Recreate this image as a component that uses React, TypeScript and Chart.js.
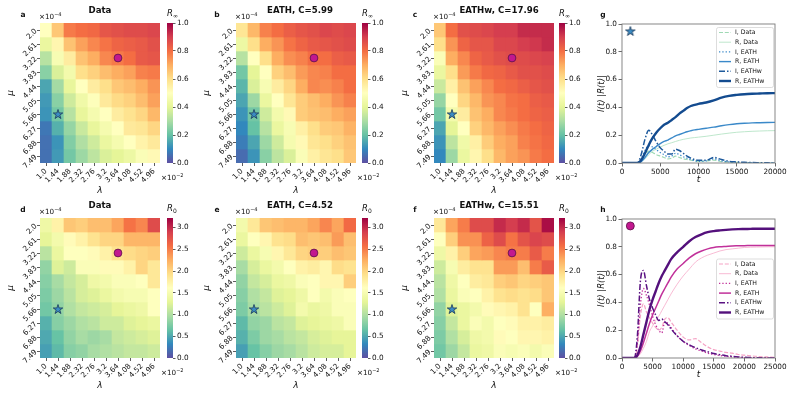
import React, { useEffect, useRef } from 'react';
import { Chart, registerables } from 'chart.js';
Chart.register(...registerables);

const FONT = "'DejaVu Sans', sans-serif";
Chart.defaults.font.family = FONT;

// ---------------- data ----------------
const lambdaLabels = ['1.0', '1.44', '1.88', '2.32', '2.76', '3.2', '3.64', '4.08', '4.52', '4.96'];
const muLabels = ['2.0', '2.61', '3.22', '3.83', '4.44', '5.05', '5.66', '6.27', '6.88', '7.49'];

const rInfData = [
  [0.50, 0.65, 0.78, 0.80, 0.81, 0.85, 0.86, 0.87, 0.87, 0.88],
  [0.42, 0.53, 0.66, 0.72, 0.76, 0.79, 0.82, 0.83, 0.84, 0.86],
  [0.32, 0.47, 0.56, 0.66, 0.70, 0.76, 0.78, 0.80, 0.84, 0.85],
  [0.25, 0.38, 0.45, 0.60, 0.63, 0.67, 0.70, 0.72, 0.77, 0.78],
  [0.15, 0.29, 0.41, 0.50, 0.56, 0.60, 0.65, 0.67, 0.70, 0.74],
  [0.13, 0.25, 0.36, 0.44, 0.49, 0.57, 0.61, 0.63, 0.67, 0.72],
  [0.12, 0.22, 0.32, 0.41, 0.46, 0.50, 0.56, 0.59, 0.62, 0.68],
  [0.07, 0.17, 0.27, 0.35, 0.41, 0.46, 0.50, 0.57, 0.58, 0.62],
  [0.06, 0.12, 0.24, 0.31, 0.36, 0.42, 0.46, 0.50, 0.54, 0.57],
  [0.06, 0.13, 0.22, 0.28, 0.33, 0.38, 0.40, 0.43, 0.48, 0.52],
];
const rInfEath = [
  [0.58, 0.68, 0.77, 0.80, 0.83, 0.85, 0.86, 0.88, 0.87, 0.88],
  [0.43, 0.60, 0.70, 0.74, 0.79, 0.82, 0.84, 0.85, 0.86, 0.87],
  [0.32, 0.50, 0.60, 0.70, 0.75, 0.77, 0.80, 0.80, 0.83, 0.84],
  [0.22, 0.40, 0.50, 0.63, 0.67, 0.73, 0.76, 0.77, 0.80, 0.80],
  [0.18, 0.38, 0.47, 0.56, 0.62, 0.70, 0.76, 0.75, 0.77, 0.80],
  [0.15, 0.28, 0.42, 0.50, 0.58, 0.64, 0.67, 0.70, 0.74, 0.77],
  [0.12, 0.22, 0.36, 0.45, 0.52, 0.64, 0.66, 0.67, 0.70, 0.72],
  [0.10, 0.20, 0.32, 0.42, 0.47, 0.55, 0.60, 0.64, 0.65, 0.69],
  [0.08, 0.15, 0.28, 0.36, 0.46, 0.52, 0.58, 0.60, 0.63, 0.66],
  [0.05, 0.12, 0.25, 0.33, 0.38, 0.48, 0.55, 0.58, 0.60, 0.65],
];
const rInfEathw = [
  [0.65, 0.80, 0.86, 0.87, 0.88, 0.90, 0.90, 0.93, 0.93, 0.93],
  [0.60, 0.74, 0.82, 0.85, 0.85, 0.88, 0.88, 0.90, 0.91, 0.93],
  [0.48, 0.70, 0.76, 0.82, 0.84, 0.86, 0.87, 0.87, 0.88, 0.89],
  [0.42, 0.60, 0.73, 0.78, 0.81, 0.82, 0.84, 0.86, 0.86, 0.87],
  [0.35, 0.55, 0.66, 0.72, 0.76, 0.80, 0.81, 0.83, 0.85, 0.86],
  [0.27, 0.50, 0.62, 0.68, 0.74, 0.76, 0.79, 0.80, 0.83, 0.84],
  [0.22, 0.45, 0.56, 0.66, 0.70, 0.76, 0.78, 0.80, 0.82, 0.83],
  [0.15, 0.40, 0.50, 0.63, 0.68, 0.72, 0.75, 0.78, 0.80, 0.82],
  [0.12, 0.33, 0.44, 0.55, 0.64, 0.70, 0.72, 0.77, 0.79, 0.81],
  [0.10, 0.28, 0.42, 0.53, 0.60, 0.68, 0.72, 0.74, 0.78, 0.80],
];
const r0Data = [
  [1.40, 1.75, 2.10, 2.05, 2.15, 2.15, 2.30, 2.55, 2.45, 2.80],
  [1.30, 1.45, 1.65, 1.75, 1.90, 2.00, 2.00, 2.20, 2.20, 2.20],
  [1.05, 1.35, 1.60, 1.60, 1.65, 1.75, 1.90, 1.95, 2.00, 2.05],
  [0.85, 1.25, 1.15, 1.55, 1.55, 1.65, 1.65, 1.75, 2.00, 1.85],
  [0.80, 0.95, 1.10, 1.20, 1.40, 1.45, 1.55, 1.55, 1.60, 1.85],
  [0.75, 0.90, 1.05, 1.20, 1.25, 1.35, 1.45, 1.50, 1.50, 1.60],
  [0.70, 0.85, 1.00, 1.10, 1.15, 1.20, 1.30, 1.35, 1.40, 1.60],
  [0.55, 0.80, 0.90, 1.00, 1.05, 1.15, 1.15, 1.25, 1.30, 1.35],
  [0.50, 0.65, 0.85, 0.95, 0.90, 0.95, 1.10, 1.15, 1.20, 1.25],
  [0.45, 0.60, 0.80, 0.85, 0.95, 1.00, 1.05, 1.10, 1.10, 1.15],
];
const r0Eath = [
  [1.45, 1.85, 2.10, 2.15, 2.20, 2.20, 2.30, 2.45, 2.30, 2.60],
  [1.35, 1.60, 1.70, 1.90, 1.95, 2.15, 2.10, 2.15, 2.35, 2.15],
  [1.15, 1.35, 1.50, 1.70, 1.85, 2.00, 2.05, 2.05, 2.15, 2.10],
  [0.95, 1.20, 1.35, 1.45, 1.60, 1.75, 1.80, 1.70, 1.95, 1.90],
  [0.85, 1.10, 1.20, 1.35, 1.40, 1.55, 1.60, 1.70, 1.70, 2.05],
  [0.80, 1.00, 1.10, 1.25, 1.30, 1.40, 1.60, 1.45, 1.55, 1.60],
  [0.75, 0.95, 1.05, 1.15, 1.25, 1.45, 1.35, 1.40, 1.55, 1.55],
  [0.60, 0.85, 0.90, 1.05, 1.10, 1.25, 1.30, 1.35, 1.40, 1.55],
  [0.55, 0.75, 0.90, 0.95, 1.05, 1.10, 1.20, 1.25, 1.30, 1.30],
  [0.45, 0.65, 0.80, 0.90, 0.95, 1.05, 1.15, 1.20, 1.20, 1.30],
];
const r0Eathw = [
  [1.85, 2.30, 2.50, 2.80, 2.80, 3.00, 2.90, 3.00, 2.75, 3.15],
  [1.60, 2.05, 2.40, 2.40, 2.65, 2.80, 2.55, 2.75, 2.85, 2.80],
  [1.40, 1.75, 2.05, 2.30, 2.35, 2.45, 2.50, 2.50, 2.70, 2.50],
  [1.15, 1.50, 1.80, 1.90, 1.90, 2.35, 2.35, 2.15, 2.50, 2.70],
  [1.05, 1.40, 1.60, 1.80, 1.85, 2.05, 2.10, 2.00, 2.05, 2.10],
  [1.00, 1.35, 1.55, 1.60, 1.75, 1.90, 1.95, 1.90, 1.95, 2.10],
  [0.85, 1.25, 1.35, 1.45, 1.65, 1.70, 1.75, 1.90, 1.60, 2.25],
  [0.80, 1.10, 1.35, 1.55, 1.45, 1.60, 1.65, 1.75, 1.75, 1.80],
  [0.75, 1.00, 1.20, 1.40, 1.45, 1.65, 1.60, 1.70, 1.70, 1.75],
  [0.70, 0.90, 1.10, 1.35, 1.40, 1.55, 1.50, 1.55, 1.45, 1.55],
];

const circleMarker = { lambda: '3.64', mu: '3.22' };
const starMarker = { lambda: '1.44', mu: '5.66' };

const gT = [0, 1000, 2000, 2500, 3000, 3500, 4000, 4500, 5000, 5500, 6000, 6500, 7000, 7500, 8000, 8500, 9000, 9500, 10000, 11000, 12000, 13000, 14000, 15000, 16000, 17000, 18000, 19000, 20000];
const gIData = [0, 0, 0, 0.02, 0.06, 0.085, 0.075, 0.06, 0.05, 0.04, 0.03, 0.035, 0.05, 0.04, 0.03, 0.025, 0.02, 0.015, 0.012, 0.015, 0.02, 0.01, 0.006, 0.004, 0.003, 0.002, 0.001, 0, 0];
const gRData = [0, 0, 0, 0.01, 0.03, 0.06, 0.085, 0.1, 0.115, 0.127, 0.138, 0.146, 0.155, 0.163, 0.17, 0.175, 0.18, 0.183, 0.186, 0.192, 0.2, 0.208, 0.215, 0.221, 0.225, 0.228, 0.23, 0.232, 0.233];
const gIEath = [0, 0, 0, 0.03, 0.09, 0.125, 0.115, 0.095, 0.075, 0.06, 0.045, 0.05, 0.07, 0.06, 0.045, 0.035, 0.025, 0.018, 0.012, 0.015, 0.03, 0.015, 0.008, 0.005, 0.003, 0.002, 0.001, 0, 0];
const gREath = [0, 0, 0, 0.01, 0.04, 0.075, 0.1, 0.12, 0.14, 0.155, 0.165, 0.18, 0.195, 0.205, 0.215, 0.225, 0.232, 0.238, 0.242, 0.25, 0.258, 0.268, 0.276, 0.282, 0.286, 0.289, 0.29, 0.291, 0.292];
const gIEathw = [0, 0, 0, 0.06, 0.17, 0.235, 0.2, 0.15, 0.11, 0.085, 0.065, 0.065, 0.1, 0.09, 0.07, 0.05, 0.035, 0.025, 0.02, 0.02, 0.04, 0.025, 0.012, 0.008, 0.005, 0.003, 0.002, 0.001, 0];
const gREathw = [0, 0, 0, 0.02, 0.07, 0.13, 0.18, 0.22, 0.25, 0.275, 0.29, 0.31, 0.33, 0.355, 0.375, 0.395, 0.41, 0.418, 0.425, 0.435, 0.45, 0.47, 0.483, 0.49, 0.495, 0.498, 0.5, 0.502, 0.503];

const hT = [0, 1000, 2000, 2500, 3000, 3500, 4000, 4500, 5000, 5500, 6000, 6500, 7000, 7500, 8000, 9000, 10000, 11000, 12000, 13000, 14000, 15000, 16000, 17000, 18000, 19000, 20000, 21000, 22000, 23000, 24000, 25000];
const hIData = [0, 0, 0, 0.08, 0.3, 0.39, 0.33, 0.29, 0.25, 0.22, 0.2, 0.22, 0.28, 0.29, 0.26, 0.2, 0.15, 0.13, 0.14, 0.11, 0.08, 0.06, 0.05, 0.04, 0.035, 0.025, 0.02, 0.016, 0.012, 0.009, 0.007, 0.005];
const hRData = [0, 0, 0, 0.01, 0.03, 0.07, 0.12, 0.19, 0.23, 0.27, 0.3, 0.34, 0.38, 0.42, 0.46, 0.53, 0.59, 0.64, 0.69, 0.72, 0.74, 0.755, 0.77, 0.78, 0.785, 0.79, 0.795, 0.797, 0.798, 0.799, 0.8, 0.8];
const hIEath = [0, 0, 0, 0.1, 0.38, 0.5, 0.45, 0.38, 0.3, 0.24, 0.2, 0.18, 0.26, 0.25, 0.22, 0.16, 0.12, 0.09, 0.065, 0.05, 0.035, 0.025, 0.018, 0.012, 0.008, 0.005, 0.003, 0.002, 0.001, 0, 0, 0];
const hREath = [0, 0, 0, 0.01, 0.05, 0.11, 0.18, 0.25, 0.31, 0.36, 0.41, 0.46, 0.5, 0.54, 0.58, 0.64, 0.68, 0.72, 0.75, 0.77, 0.785, 0.795, 0.8, 0.803, 0.806, 0.807, 0.808, 0.809, 0.81, 0.81, 0.81, 0.81];
const hIEathw = [0, 0, 0, 0.15, 0.55, 0.63, 0.52, 0.42, 0.36, 0.31, 0.27, 0.28, 0.26, 0.24, 0.21, 0.16, 0.12, 0.095, 0.075, 0.058, 0.045, 0.032, 0.024, 0.017, 0.012, 0.008, 0.005, 0.003, 0.002, 0.001, 0, 0];
const hREathw = [0, 0, 0, 0.02, 0.08, 0.17, 0.26, 0.35, 0.42, 0.48, 0.54, 0.59, 0.63, 0.67, 0.71, 0.76, 0.8, 0.84, 0.87, 0.89, 0.905, 0.913, 0.918, 0.922, 0.925, 0.927, 0.928, 0.929, 0.93, 0.93, 0.93, 0.93];

const gMarker = { x: 1090, y: 0.95 };
const hMarker = { x: 1360, y: 0.95 };

// ---------------- colormap ----------------
const SPECTRAL = ['#9e0142', '#d53e4f', '#f46d43', '#fdae61', '#fee08b', '#ffffbf', '#e6f598', '#abdda4', '#66c2a5', '#3288bd', '#5e4fa2'];
const hex = (h: string) => [1, 3, 5].map((i) => parseInt(h.slice(i, i + 2), 16));
function spectralR(t: number) {
  t = Math.max(0, Math.min(1, t));
  const s = (1 - t) * 10;
  const i = Math.min(9, Math.floor(s));
  const f = s - i;
  const a = hex(SPECTRAL[i]);
  const b = hex(SPECTRAL[i + 1]);
  const c = a.map((v, k) => Math.round(v + (b[k] - v) * f));
  return `rgb(${c[0]},${c[1]},${c[2]})`;
}

function makeStar(size: number, fill: string, stroke: string) {
  const c = document.createElement('canvas');
  c.width = size; c.height = size;
  const ctx = c.getContext('2d')!;
  const cx = size / 2, cy = size / 2 + 0.5, R = size / 2 - 1, r = R * 0.382;
  ctx.beginPath();
  for (let k = 0; k < 10; k++) {
    const a = -Math.PI / 2 + (k * Math.PI) / 5;
    const rad = k % 2 === 0 ? R : r;
    ctx.lineTo(cx + rad * Math.cos(a), cy + rad * Math.sin(a));
  }
  ctx.closePath();
  ctx.fillStyle = fill; ctx.fill();
  ctx.lineWidth = 0.8; ctx.strokeStyle = stroke; ctx.stroke();
  return c;
}

const CIRCLE_FILL = '#c2188f';
const CIRCLE_EDGE = '#5a1048';
const STAR_FILL = '#3b8bc2';
const STAR_EDGE = '#1b3a5c';
const TICK_FONT = { family: FONT, size: 7.3 };
const TXT = '#111';

// ---------------- layout ----------------
const HM_H = 140;
const Y_AXIS_W = 40, X_AXIS_H = 35, PAD_T = 10, PAD_R = 12, PAD_B = 2;

type Panel = { letter: string; title: string; values: number[][]; vmax: number; step: number; sub: string; hmL: number; hmR: number; top: number; cbL: number; titleX: number; letterX: number };

const panels: Panel[] = [
  { letter: 'a', title: 'Data', values: rInfData, vmax: 1, step: 0.2, sub: '∞', hmL: 40, hmR: 160, top: 23, cbL: 167, titleX: 100, letterX: 23 },
  { letter: 'b', title: 'EATH, C=5.99', values: rInfEath, vmax: 1, step: 0.2, sub: '∞', hmL: 236, hmR: 356, top: 23, cbL: 362, titleX: 300, letterX: 217 },
  { letter: 'c', title: 'EATHw, C=17.96', values: rInfEathw, vmax: 1, step: 0.2, sub: '∞', hmL: 434, hmR: 554, top: 23, cbL: 559, titleX: 499, letterX: 415 },
  { letter: 'd', title: 'Data', values: r0Data, vmax: 3.22, step: 0.5, sub: '0', hmL: 40, hmR: 160, top: 218, cbL: 167, titleX: 100, letterX: 23 },
  { letter: 'e', title: 'EATH, C=4.52', values: r0Eath, vmax: 3.22, step: 0.5, sub: '0', hmL: 236, hmR: 356, top: 218, cbL: 362, titleX: 300, letterX: 217 },
  { letter: 'f', title: 'EATHw, C=15.51', values: r0Eathw, vmax: 3.22, step: 0.5, sub: '0', hmL: 434, hmR: 554, top: 218, cbL: 559, titleX: 499, letterX: 415 },
];

function ChartCanvas({ left, top, width, height, make }: { left: number; top: number; width: number; height: number; make: () => any }) {
  const ref = useRef<HTMLCanvasElement>(null);
  useEffect(() => {
    const chart = new Chart(ref.current as HTMLCanvasElement, make());
    return () => chart.destroy();
  }, []);
  return <canvas ref={ref} width={width} height={height} style={{ position: 'absolute', left, top, width, height }} />;
}

function heatmapConfig(p: Panel) {
  const datasets: any[] = p.values.map((row, i) => ({
    type: 'bar',
    data: row.map(() => [i, i + 1]),
    backgroundColor: row.map((v) => spectralR(v / p.vmax)),
    borderWidth: 0,
    barPercentage: 1,
    categoryPercentage: 1,
    grouped: false,
    order: 2,
  }));
  datasets.push({
    type: 'line', showLine: false,
    data: [{ x: circleMarker.lambda, y: muLabels.indexOf(circleMarker.mu) + 0.5 }],
    pointStyle: 'circle', pointRadius: 3.9, backgroundColor: CIRCLE_FILL, borderColor: CIRCLE_EDGE, borderWidth: 0.8, order: 0,
  });
  datasets.push({
    type: 'line', showLine: false,
    data: [{ x: starMarker.lambda, y: muLabels.indexOf(starMarker.mu) + 0.5 }],
    pointStyle: makeStar(12, STAR_FILL, STAR_EDGE), pointRadius: 5, order: 0,
  });
  return {
    type: 'bar',
    data: { labels: lambdaLabels, datasets },
    options: {
      responsive: false, animation: false, devicePixelRatio: 1, events: [],
      layout: { padding: { left: 0, top: PAD_T, right: PAD_R, bottom: PAD_B } },
      plugins: { legend: { display: false }, tooltip: { enabled: false } },
      scales: {
        x: {
          type: 'category', offset: true,
          grid: { offset: false, drawOnChartArea: false, tickLength: 3, color: '#333', lineWidth: 0.8 },
          border: { display: false },
          ticks: { font: TICK_FONT, color: TXT, minRotation: 45, maxRotation: 45, autoSkip: false, padding: 1 },
          title: { display: true, text: 'λ', color: TXT, font: { family: FONT, size: 9, style: 'italic' }, padding: { top: 0, bottom: 2 } },
          afterFit: (s: any) => { s.height = X_AXIS_H; },
        },
        y: {
          type: 'linear', min: 0, max: 10, reverse: true,
          afterBuildTicks: (s: any) => { s.ticks = muLabels.map((_, i) => ({ value: i + 0.5 })); },
          grid: { drawOnChartArea: false, tickLength: 3, color: '#333', lineWidth: 0.8 },
          border: { display: false },
          ticks: { font: TICK_FONT, color: TXT, minRotation: 45, maxRotation: 45, autoSkip: false, padding: 1, callback: (v: number) => muLabels[Math.floor(v)] },
          title: { display: true, text: 'μ', color: TXT, font: { family: FONT, size: 9, style: 'italic' }, padding: { top: 5, bottom: 0 } },
          afterFit: (s: any) => { s.width = Y_AXIS_W; },
        },
      },
    },
  };
}

function colorbarConfig(p: Panel) {
  return {
    type: 'bar',
    data: { labels: [''], datasets: [] },
    options: {
      responsive: false, animation: false, devicePixelRatio: 1, events: [],
      layout: { padding: { left: 0, top: 10, right: 0, bottom: 10 } },
      plugins: { legend: { display: false }, tooltip: { enabled: false } },
      scales: {
        x: { display: false },
        y: {
          position: 'right', min: 0, max: p.vmax,
          grid: { drawOnChartArea: false, tickLength: 2.5, color: '#333', lineWidth: 0.8 },
          border: { display: false },
          ticks: { stepSize: p.step, includeBounds: false, font: TICK_FONT, color: TXT, padding: 1.5, callback: (v: number) => Number(v).toFixed(1) },
          afterFit: (s: any) => { s.width = 30; },
        },
      },
    },
    plugins: [{
      id: 'cbFill',
      beforeDatasetsDraw(chart: any) {
        const { ctx, chartArea: a, scales } = chart;
        const y0 = scales.y.getPixelForValue(0);
        const y1 = scales.y.getPixelForValue(p.vmax);
        const g = ctx.createLinearGradient(0, y0, 0, y1);
        for (let k = 0; k <= 10; k++) g.addColorStop(k / 10, spectralR(k / 10));
        ctx.save();
        ctx.fillStyle = g;
        ctx.fillRect(a.left, y1, a.right - a.left, y0 - y1);
        ctx.restore();
      },
    }],
  };
}

type Series = { label: string; values: number[]; color: string; width: number; dash: number[] };

const gSeries: Series[] = [
  { label: 'I, Data', values: gIData, color: '#9fd9b4', width: 1.2, dash: [4, 1.8] },
  { label: 'R, Data', values: gRData, color: '#b7e4c6', width: 0.9, dash: [] },
  { label: 'I, EATH', values: gIEath, color: '#3a89c9', width: 1.3, dash: [1.3, 2] },
  { label: 'R, EATH', values: gREath, color: '#3a89c9', width: 1.4, dash: [] },
  { label: 'I, EATHw', values: gIEathw, color: '#1e5a9c', width: 1.5, dash: [6, 2, 1.5, 2] },
  { label: 'R, EATHw', values: gREathw, color: '#134b8f', width: 2.4, dash: [] },
];
const hSeries: Series[] = [
  { label: 'I, Data', values: hIData, color: '#f5a3c5', width: 1.2, dash: [4, 1.8] },
  { label: 'R, Data', values: hRData, color: '#f7b3cf', width: 0.9, dash: [] },
  { label: 'I, EATH', values: hIEath, color: '#c1309a', width: 1.3, dash: [1.3, 2] },
  { label: 'R, EATH', values: hREath, color: '#c1309a', width: 1.5, dash: [] },
  { label: 'I, EATHw', values: hIEathw, color: '#5a1282', width: 1.5, dash: [6, 2, 1.5, 2] },
  { label: 'R, EATHw', values: hREathw, color: '#54107c', width: 2.4, dash: [] },
];

const framePlugin = {
  id: 'frameLegend',
  afterDatasetsDraw(chart: any, _args: any, opts: any) {
    const { ctx, chartArea: a } = chart;
    ctx.save();
    ctx.strokeStyle = '#7a7a7a';
    ctx.lineWidth = 0.9;
    ctx.strokeRect(a.left, a.top, a.right - a.left, a.bottom - a.top);
    const items = chart.data.datasets.filter((d: any) => d.label);
    const w = 57, h = 60;
    const x0 = a.right - 2 - w;
    const y0 = opts.valign === 'top' ? a.top + 3 : (a.top + a.bottom) / 2 - h / 2;
    ctx.beginPath();
    ctx.roundRect(x0 + 0.5, y0 + 0.5, w, h, 2);
    ctx.fillStyle = 'rgba(255,255,255,0.85)';
    ctx.fill();
    ctx.strokeStyle = '#d4d4d4';
    ctx.lineWidth = 0.8;
    ctx.stroke();
    items.forEach((d: any, i: number) => {
      const y = y0 + 5.5 + i * 9.7;
      ctx.beginPath();
      ctx.setLineDash(d.borderDash || []);
      ctx.strokeStyle = d.borderColor;
      ctx.lineWidth = d.borderWidth;
      ctx.moveTo(x0 + 3, y);
      ctx.lineTo(x0 + 15, y);
      ctx.stroke();
      ctx.setLineDash([]);
      ctx.fillStyle = TXT;
      ctx.font = `6.2px ${FONT}`;
      ctx.textBaseline = 'middle';
      ctx.textAlign = 'left';
      ctx.fillText(d.label, x0 + 19, y);
    });
    ctx.restore();
  },
};

function lineConfig(t: number[], series: Series[], xmax: number, marker: { x: number; y: number }, isStar: boolean, valign: string) {
  const n = series.length;
  const datasets: any[] = series.map((s, i) => ({
    type: 'line',
    label: s.label,
    data: t.map((x, k) => ({ x, y: s.values[k] })),
    borderColor: s.color,
    borderWidth: s.width,
    borderDash: s.dash,
    pointRadius: 0,
    cubicInterpolationMode: 'monotone',
    fill: false,
    order: n - i,
  }));
  datasets.push(isStar
    ? { type: 'line', showLine: false, data: [marker], pointStyle: makeStar(12, STAR_FILL, STAR_EDGE), pointRadius: 5, order: -1 }
    : { type: 'line', showLine: false, data: [marker], pointStyle: 'circle', pointRadius: 4, backgroundColor: CIRCLE_FILL, borderColor: CIRCLE_EDGE, borderWidth: 0.8, order: -1 });
  return {
    type: 'line',
    data: { datasets },
    options: {
      responsive: false, animation: false, devicePixelRatio: 1, events: [],
      layout: { padding: { left: 0, top: 10, right: 18, bottom: 2 } },
      plugins: { legend: { display: false }, tooltip: { enabled: false }, frameLegend: { valign } },
      scales: {
        x: {
          type: 'linear', min: 0, max: xmax,
          grid: { drawOnChartArea: false, tickLength: 3.5, color: '#444', lineWidth: 0.8 },
          border: { display: false },
          ticks: { stepSize: 5000, font: TICK_FONT, color: TXT, padding: 1, maxRotation: 0, callback: (v: number) => String(v) },
          title: { display: true, text: 't', color: TXT, font: { family: FONT, size: 9, style: 'italic' }, padding: { top: 0, bottom: 1 } },
          afterFit: (s: any) => { s.height = 23; },
        },
        y: {
          type: 'linear', min: 0, max: 1,
          grid: { drawOnChartArea: false, tickLength: 3.5, color: '#444', lineWidth: 0.8 },
          border: { display: false },
          ticks: { stepSize: 0.2, font: TICK_FONT, color: TXT, padding: 1.5, callback: (v: number) => Number(v).toFixed(1) },
          title: { display: true, text: 'I(t) |R(t)|', color: TXT, font: { family: FONT, size: 8.5, style: 'italic' }, padding: { top: 1, bottom: 0 } },
          afterFit: (s: any) => { s.width = 26; },
        },
      },
    },
    plugins: [framePlugin],
  };
}

function Txt({ x, y, children, size = 7.3, bold = false, italic = false, anchor = 'middle' }: any) {
  const tx = anchor === 'middle' ? '-50%' : anchor === 'end' ? '-100%' : '0';
  return (
    <div style={{ position: 'absolute', left: x, top: y, transform: `translate(${tx}, -50%)`, fontSize: size, fontWeight: bold ? 'bold' : 'normal', fontStyle: italic ? 'italic' : 'normal', whiteSpace: 'nowrap', lineHeight: 1, color: TXT, fontFamily: FONT }}>
      {children}
    </div>
  );
}

export default function App() {
  return (
    <div style={{ position: 'absolute', left: 0, top: 0, width: 793, height: 397, overflow: 'hidden', background: '#fff', fontFamily: FONT }}>
      {panels.map((p) => (
        <React.Fragment key={p.letter}>
          <ChartCanvas
            left={p.hmL - Y_AXIS_W}
            top={p.top - PAD_T}
            width={Y_AXIS_W + (p.hmR - p.hmL) + PAD_R}
            height={PAD_T + HM_H + X_AXIS_H + PAD_B}
            make={() => heatmapConfig(p)}
          />
          <ChartCanvas left={p.cbL} top={p.top - 10} width={36} height={HM_H + 20} make={() => colorbarConfig(p)} />
          <Txt x={p.letterX} y={p.top - 8} size={7.5} bold>{p.letter}</Txt>
          <Txt x={p.titleX} y={p.top - 13} size={8.6} bold>{p.title}</Txt>
          <Txt x={p.hmL - 1} y={p.top - 7} anchor="start" size={7.2}>
            ×10<span style={{ fontSize: 5, verticalAlign: '0.45em' }}>−4</span>
          </Txt>
          <Txt x={p.hmR + 1} y={p.top + HM_H + 14} anchor="start" size={7.2}>
            ×10<span style={{ fontSize: 5, verticalAlign: '0.45em' }}>−2</span>
          </Txt>
          <Txt x={p.cbL} y={p.top - 9.5} anchor="start" size={8.5}>
            <i>R</i><span style={{ fontSize: 6, verticalAlign: '-0.25em' }}>{p.sub}</span>
          </Txt>
        </React.Fragment>
      ))}
      <ChartCanvas left={596} top={14} width={197} height={174} make={() => lineConfig(gT, gSeries, 20000, gMarker, true, 'top')} />
      <ChartCanvas left={596} top={209} width={197} height={174} make={() => lineConfig(hT, hSeries, 25000, hMarker, false, 'center')} />
      <Txt x={603} y={15} size={7.5} bold>g</Txt>
      <Txt x={603} y={210} size={7.5} bold>h</Txt>
    </div>
  );
}
